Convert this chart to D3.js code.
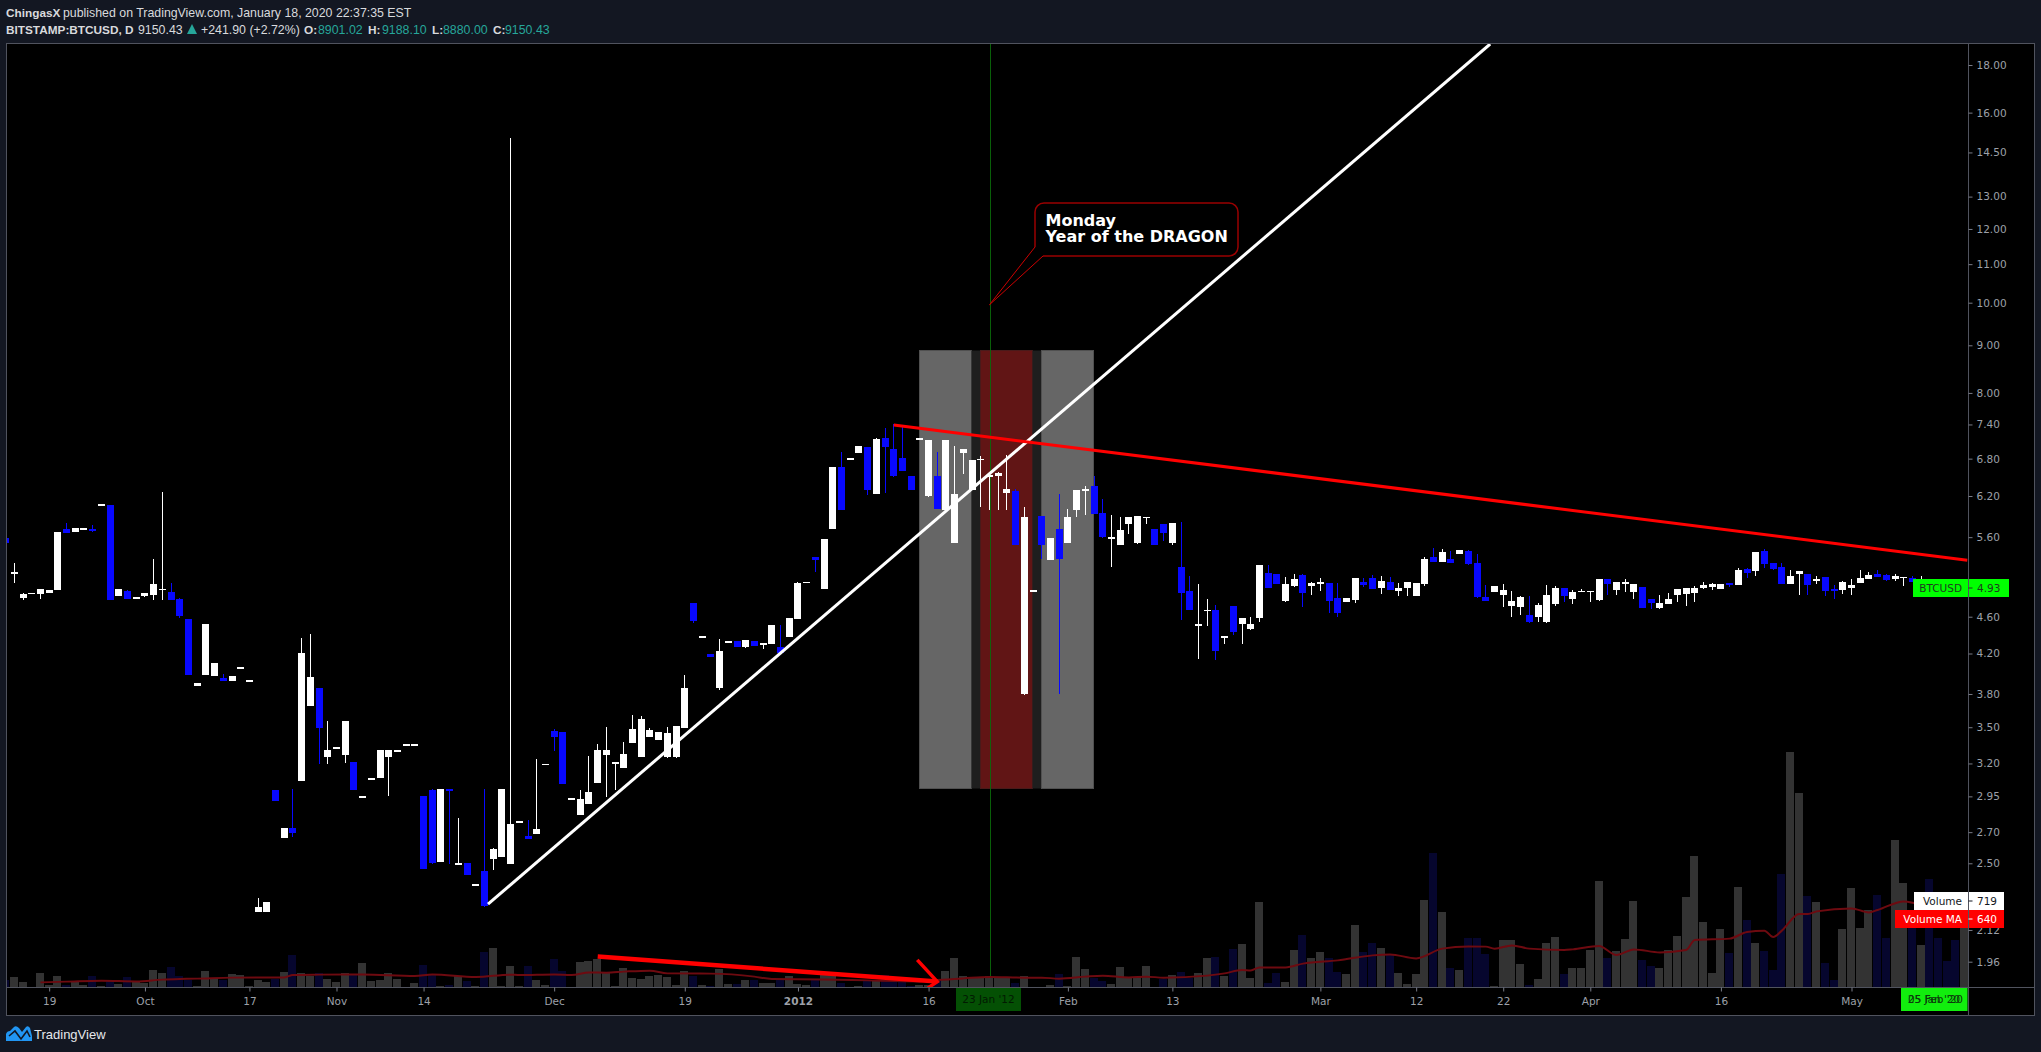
<!DOCTYPE html>
<html>
<head>
<meta charset="utf-8">
<script src="https://cdn.jsdelivr.net/npm/d3@7/dist/d3.min.js"></script>
<style>
html,body{margin:0;padding:0;background:#131722;overflow:hidden}
svg{display:block}
text{font-family:"DejaVu Sans",sans-serif}
</style>
</head>
<body>
<svg id="chart" width="2041" height="1052"></svg>
<script>
// open, high, low, close rows, grouped by calendar stretch
const candlesSep = [[5.59,5.59,5.52,5.52],[5.11,5.25,5.00,5.14],[4.82,4.88,4.79,4.87],[4.86,4.88,4.86,4.88],[4.87,4.93,4.81,4.93],[4.88,4.91,4.88,4.91],[4.91,5.67,4.91,5.67],[5.71,5.80,5.66,5.66],[5.67,5.73,5.67,5.73],[5.70,5.73,5.70,5.73],[5.71,5.77,5.67,5.69],[6.05,6.08,6.05,6.08],[6.06,6.06,4.80,4.80],[4.84,4.93,4.84,4.93],[4.90,4.91,4.81,4.81],[4.81,4.83,4.81,4.83]];
const candlesOct = [[4.84,4.88,4.83,4.88],[4.85,5.30,4.79,4.99],[4.91,6.26,4.79,4.93],[4.89,5.00,4.79,4.79],[4.81,4.82,4.58,4.61],[4.57,4.57,3.98,3.98],[3.88,3.90,3.88,3.90],[3.98,4.52,3.98,4.52],[3.97,4.10,3.97,4.10],[3.95,3.99,3.92,3.92],[3.92,3.97,3.92,3.97],[4.04,4.06,4.04,4.06],[3.91,3.93,3.91,3.93],[2.216,2.293,2.216,2.243],[2.216,2.271,2.216,2.271],[2.996,2.996,2.916,2.916],[2.660,2.727,2.660,2.727],[2.727,3.003,2.667,2.694],[3.063,4.362,3.063,4.204],[3.688,4.406,3.688,3.962],[3.855,3.855,3.195,3.492],[3.251,3.553,3.195,3.307]];
const candlesNov = [[3.315,3.332,3.315,3.332],[3.267,3.553,3.203,3.553],[3.211,3.211,2.996,2.996],[2.941,2.955,2.941,2.955],[3.075,3.09,3.075,3.09],[3.086,3.307,3.086,3.307],[3.251,3.307,2.952,3.307],[3.295,3.311,3.295,3.311],[3.344,3.361,3.344,3.361],[3.344,3.361,3.344,3.361],[2.952,2.952,2.464,2.464],[2.996,3.003,2.495,2.501],[2.508,3.003,2.508,3.003],[3.003,3.003,2.495,2.989],[2.492,2.796,2.492,2.504],[2.501,2.501,2.428,2.428],[2.365,2.377,2.365,2.377],[2.452,3.003,2.245,2.25],[2.526,2.596,2.458,2.589],[2.538,3.003,2.538,3.003],[2.495,15.03,2.495,2.754],[2.765,2.779,2.765,2.779],[2.673,2.782,2.654,2.654],[2.687,3.235,2.687,2.72],[3.184,3.199,3.184,3.199]];
const candlesDec = [[3.466,3.483,3.299,3.415],[3.458,3.458,3.041,3.041],[2.926,2.94,2.926,2.94],[2.816,2.996,2.816,2.93],[2.894,3.259,2.894,2.981],[3.049,3.357,3.049,3.307],[3.267,3.501,2.945,3.307],[3.195,3.21,2.996,3.21],[3.164,3.373,3.164,3.275],[3.365,3.606,3.365,3.483],[3.251,3.597,3.251,3.571],[3.415,3.492,3.415,3.475],[3.39,3.458,3.39,3.458],[3.251,3.501,3.243,3.449],[3.251,3.51,3.243,3.51],[3.492,3.981,3.492,3.855],[4.757,4.757,4.528,4.55],[4.368,4.39,4.368,4.39],[4.194,4.194,4.163,4.163],[3.855,4.352,3.836,4.225],[4.314,4.336,4.314,4.336],[4.33,4.33,4.266,4.266],[4.266,4.341,4.256,4.341],[4.33,4.33,4.277,4.277],[4.287,4.309,4.246,4.309],[4.298,4.506,4.298,4.506],[4.266,4.506,4.204,4.204],[4.374,4.584,4.374,4.584]];
const candlesJan = [[4.572,5.012,4.572,5.0],[4.994,5.018,4.994,5.018],[5.331,5.331,5.137,5.291],[4.925,5.574,4.925,5.574],[5.713,6.66,5.713,6.66],[6.66,6.912,5.988,5.988],[6.785,6.818,6.785,6.818],[6.895,7.015,6.895,7.015],[6.998,6.998,6.215,6.292],[6.23,7.155,6.23,7.137],[7.155,7.334,6.245,6.998],[6.963,7.407,6.498,6.514],[6.81,7.37,6.595,6.595],[6.514,6.514,6.292,6.292],[7.129,7.163,7.129,7.163],[6.199,7.12,6.184,7.12],[6.514,6.912,6.003,6.003],[5.988,7.12,5.988,7.12],[5.519,7.015,5.519,6.23],[6.895,6.963,6.547,6.963],[6.292,6.776,6.292,6.776],[6.776,6.844,6.033,6.793],[6.498,6.53,5.988,6.53],[6.514,6.579,5.988,6.563],[6.245,6.861,5.988,6.308],[6.276,6.308,5.492,5.492],[3.798,6.033,3.79,5.885],[4.895,4.919,4.895,4.919],[5.9,5.9,5.304,5.492],[5.291,5.588,5.291,5.588],[5.713,6.23,3.798,5.304]];
const candlesFeb = [[5.519,6.003,5.519,5.885],[5.988,6.292,5.885,6.292],[6.276,6.356,5.915,6.308],[6.356,6.514,5.93,5.93],[5.944,6.153,5.588,5.602],[5.58,5.915,5.201,5.608],[5.492,5.885,5.492,5.699],[5.784,5.885,5.643,5.885],[5.519,5.9,5.505,5.9],[5.871,5.885,5.784,5.885],[5.713,5.713,5.492,5.492],[5.784,5.784,5.546,5.657],[5.519,5.799,5.492,5.799],[5.201,5.813,4.561,4.877],[4.901,5.086,4.676,4.676],[4.495,4.988,4.142,4.517],[4.665,4.805,4.495,4.682],[4.676,4.734,4.132,4.225],[4.368,4.39,4.298,4.39],[4.722,4.722,4.395,4.428],[4.517,4.584,4.298,4.584],[4.461,4.596,4.45,4.517],[4.584,5.226,4.539,5.226],[5.124,5.226,4.938,4.938],[5.111,5.111,4.988,4.988],[4.781,5.074,4.769,4.988],[4.963,5.111,4.951,5.049],[5.099,5.111,4.71,4.877],[4.963,5.012,4.853,5.0]];
const candlesMar = [[4.988,5.061,4.901,5.012],[5.0,5.0,4.641,4.781],[4.817,5.0,4.596,4.641],[4.769,4.817,4.769,4.817],[4.793,5.061,4.757,5.061],[5.012,5.061,4.951,4.975],[5.061,5.099,4.925,4.925],[4.938,5.086,4.865,5.024],[5.012,5.074,4.913,4.913],[4.901,5.0,4.841,4.938],[4.938,5.012,4.841,5.012],[4.841,5.0,4.841,5.0],[4.988,5.331,4.963,5.304],[5.331,5.451,5.265,5.265],[5.265,5.438,5.265,5.397],[5.304,5.411,5.252,5.252],[5.37,5.424,5.37,5.424],[5.411,5.424,5.226,5.239],[5.252,5.37,4.817,4.829],[4.829,4.975,4.781,4.781],[4.889,4.963,4.889,4.963],[4.853,4.988,4.71,4.913],[4.722,4.901,4.596,4.781],[4.71,4.841,4.618,4.829],[4.618,4.841,4.528,4.539],[4.596,4.757,4.539,4.734],[4.539,4.975,4.528,4.853],[4.745,4.963,4.722,4.938],[4.938,4.938,4.769,4.841],[4.805,4.913,4.745,4.889],[4.889,4.925,4.889,4.901]];
const candlesApr = [[4.889,4.901,4.769,4.901],[4.793,5.049,4.781,5.049],[5.049,5.049,4.853,4.988],[4.913,5.012,4.853,5.012],[4.988,5.049,4.889,5.012],[4.889,4.988,4.805,4.988],[4.951,4.951,4.699,4.699],[4.805,4.805,4.688,4.757],[4.699,4.853,4.688,4.757],[4.745,4.877,4.745,4.805],[4.853,4.925,4.769,4.925],[4.865,4.938,4.722,4.938],[4.877,4.963,4.769,4.938],[4.938,5.012,4.925,4.975],[4.951,5.0,4.913,4.988],[4.925,4.988,4.925,4.988],[5.0,5.0,4.951,4.975],[4.975,5.188,4.975,5.162],[5.175,5.188,5.061,5.124],[5.149,5.397,5.086,5.397],[5.411,5.438,5.188,5.239],[5.252,5.252,5.162,5.175],[5.201,5.252,4.988,4.988],[4.988,5.162,4.988,5.086],[5.111,5.149,4.853,5.149],[5.111,5.111,4.853,4.975],[5.024,5.086,4.988,5.049],[5.074,5.074,4.841,4.901],[4.925,4.975,4.805,4.901],[4.913,5.024,4.865,5.012]];
const candlesMay = [[4.938,5.049,4.853,4.975],[5.0,5.162,5.0,5.061],[5.049,5.137,5.049,5.099],[5.111,5.162,5.074,5.074],[5.099,5.111,5.024,5.036],[5.049,5.111,5.024,5.086],[5.061,5.074,4.963,5.074],[5.061,5.086,5.012,5.012],[4.913,5.086,4.913,5.012],[5.0,5.0,4.90,4.95],[4.98,4.98,4.88,4.92],[4.96,4.96,4.88,4.90],[4.95,4.95,4.86,4.89],[4.90,4.95,4.89,4.93]];

const volumes = [56,80,40,4,112,16,88,16,40,16,88,8,48,24,80,48,32,136,112,160,88,56,8,128,72,56,104,96,8,56,40,64,120,256,112,88,112,64,40,112,96,192,48,56,112,64,3,32,176,96,8,16,88,48,8,280,312,8,168,8,168,56,16,224,128,2,200,208,224,112,8,152,72,64,88,96,80,16,128,88,16,8,144,24,24,56,56,32,32,56,88,24,16,64,104,96,32,2,8,56,56,96,80,40,8,16,16,56,128,232,88,80,80,88,80,80,32,88,2,2,16,104,8,240,144,72,48,24,160,80,80,168,2,64,96,120,72,112,232,240,88,304,344,72,680,32,112,40,296,416,232,280,232,120,104,496,280,352,312,264,112,24,104,696,1072,600,152,136,392,392,264,8,376,376,184,16,64,352,400,104,152,152,296,848,232,288,384,688,216,168,152,296,408,720,1048,520,112,464,272,800,536,352,288,136,904,1880,1552,728,680,192,56,464,792,472,616,736,392,1176,832,536,336,864,392,208,376,719];

const maIndex = [3,6,10,14,17,19,21,25,31,32,35,40,46,48,53,57,58,62,64,66,68,70,73,75,80,85,87,93,98,104,106,109,112,116,118,120,123,125,128,130,132,137,139,141,142,143,146,148,152,156,158,161,164,167,169,170,172,174,178,179,182,184,186,189,192,193,197,199,201,202,203,205,206,207,211,213,214,217,219,221,223,224];
const maValues = [37,43,51,45,59,64,67,75,77,96,99,101,88,101,80,99,96,101,96,117,115,123,131,109,107,83,64,61,53,45,56,69,80,75,75,67,83,91,77,83,75,91,109,136,133,157,157,187,213,253,261,229,307,325,323,307,333,307,296,301,328,256,301,277,296,376,387,440,451,400,451,584,584,605,629,597,616,685,664,701,669,640];

const priceTicks = [18,16,14.5,13,12,11,10,9,8,7.4,6.8,6.2,5.6,4.6,4.2,3.8,3.5,3.2,2.95,2.7,2.5,2.12,1.96];
const timeTickIndex = [4,15,27,37,47,62,77,90,105,121,133,150,161,171,181,196,211];
const timeTickLabels = ["19","Oct","17","Nov","14","Dec","19","2012","16","Feb","13","Mar","12","22","Apr","16","May"];

const zoneEdges = [104,110,111,117,118,124];
const zoneLow = 3.01, zoneHigh = 8.9;
const risingLine = [[54.4,2.26],[169.5,18.96]];
const fallingLine = [[101,7.39],[224.3,5.29]];
const volumeArrowShaft = [[67,1.985],[106,1.866]];
const volumeArrowHead = [[103.7,1.969],[106,1.866],[104.9,1.836]];
const calloutTip = [112,9.95];
const crosshairIndex = 112;

const candles = [...candlesSep,...candlesOct,...candlesNov,...candlesDec,...candlesJan,...candlesFeb,...candlesMar,...candlesApr,...candlesMay];

const svg = d3.select("#chart");
const x = d3.scaleLinear().domain([-1,224]).range([5.63,1964.7]);
const y = d3.scaleLog().domain([1.96,18]).range([961.7,65]);
const v = d3.scaleLinear().domain([0,1000]).range([987,862]);

const L=7,R=1968.5,T=44,B=987;
svg.append("defs").append("clipPath").attr("id","pane").append("rect").attr("x",L).attr("y",T).attr("width",R-L).attr("height",B-T);
svg.append("rect").attr("x",6.5).attr("y",43.5).attr("width",2028).attr("height",972).attr("fill","#000").attr("stroke","#50535e");

const pane = svg.append("g").attr("clip-path","url(#pane)");

// background zones
const zoneFills = ["#666666","#1e1e1e","#611515","#1e1e1e","#666666"];
const zoneStrokes = ["#505050","none","#4a1a1a","none","#505050"];
pane.append("g").selectAll("rect").data(d3.pairs(zoneEdges)).join("rect")
  .attr("x",d=>Math.round(x(d[0]))-.5).attr("width",d=>Math.round(x(d[1]))-Math.round(x(d[0])))
  .attr("y",Math.round(y(zoneHigh))+.5).attr("height",Math.round(y(zoneLow))-Math.round(y(zoneHigh)))
  .attr("fill",(d,i)=>zoneFills[i]).attr("stroke",(d,i)=>zoneStrokes[i]);

// crosshair
pane.append("line").attr("x1",Math.round(x(crosshairIndex))+.5).attr("x2",Math.round(x(crosshairIndex))+.5)
  .attr("y1",T).attr("y2",B).attr("stroke","#0a6a0a").attr("stroke-width",1).attr("opacity",.9);

// volume
const isUp = d=>d[3]>=d[0];
pane.append("g").selectAll("rect").data(volumes).join("rect")
  .attr("x",(d,i)=>Math.floor(x(i-1))-4).attr("width",8)
  .attr("y",d=>Math.round(v(d))).attr("height",d=>Math.max(1,B-Math.round(v(d))))
  .attr("fill",(d,i)=>isUp(candles[i])?"#333333":"#06062e").attr("shape-rendering","crispEdges");
pane.append("path").datum(maIndex.map((d,i)=>[d,maValues[i]]))
  .attr("d",d3.line().x(d=>x(d[0])).y(d=>v(d[1])).curve(d3.curveMonotoneX))
  .attr("fill","none").attr("stroke","#6e0a10").attr("stroke-width",2);

// candles
const colour = d=>isUp(d)?"#ffffff":"#0808ff";
const cg = pane.append("g").attr("shape-rendering","crispEdges");
cg.selectAll("line").data(candles).join("line")
  .attr("x1",(d,i)=>Math.floor(x(i-1))+.5).attr("x2",(d,i)=>Math.floor(x(i-1))+.5)
  .attr("y1",d=>Math.round(y(d[1]))).attr("y2",d=>Math.round(y(d[2])))
  .attr("stroke",colour).attr("stroke-width",1);
cg.selectAll("rect").data(candles).join("rect")
  .attr("x",(d,i)=>Math.floor(x(i-1))-3).attr("width",7)
  .attr("y",d=>Math.round(y(Math.max(d[0],d[3]))))
  .attr("height",d=>Math.max(1,Math.round(y(Math.min(d[0],d[3])))-Math.round(y(Math.max(d[0],d[3])))))
  .attr("fill",colour);

// trend lines
const seg = d3.line().x(d=>x(d[0])).y(d=>y(d[1]));
pane.append("path").attr("d",seg(risingLine)).attr("stroke","#fff").attr("stroke-width",3).attr("fill","none");
pane.append("path").attr("d",seg(fallingLine)).attr("stroke","#f00").attr("stroke-width",3).attr("fill","none");
pane.append("path").attr("d",seg(volumeArrowShaft)).attr("stroke","#f00").attr("stroke-width",4.5).attr("fill","none");
pane.append("path").attr("d",seg(volumeArrowHead)).attr("stroke","#f00").attr("stroke-width",3.5).attr("fill","none");

// callout
const tipX=x(calloutTip[0]), tipY=y(calloutTip[1]);
const bx0=1035,bx1=1238,by0=203,by1=256,r=9;
const bubble=d3.path();
bubble.moveTo(bx0+r,by0);bubble.lineTo(bx1-r,by0);bubble.arcTo(bx1,by0,bx1,by0+r,r);
bubble.lineTo(bx1,by1-r);bubble.arcTo(bx1,by1,bx1-r,by1,r);bubble.lineTo(1043,by1);
bubble.moveTo(bx0,247);bubble.lineTo(bx0,by0+r);bubble.arcTo(bx0,by0,bx0+r,by0,r);
svg.append("path").attr("d",bubble.toString()).attr("fill","none").attr("stroke","#990000").attr("stroke-width",1.5);
const tail=d3.path();tail.moveTo(bx0,247);tail.lineTo(tipX,tipY);tail.lineTo(1043,by1);
svg.append("path").attr("d",tail.toString()).attr("fill","none").attr("stroke","#cc0000").attr("stroke-width",1);
svg.append("text").attr("x",1045.5).attr("y",225.5).attr("fill","#fff").attr("font-size",16).attr("font-weight","bold").text("Monday");
svg.append("text").attr("x",1045.5).attr("y",241.5).attr("fill","#fff").attr("font-size",16).attr("font-weight","bold").text("Year of the DRAGON");

// axes
svg.append("line").attr("x1",6.5).attr("x2",2034.5).attr("y1",987.5).attr("y2",987.5).attr("stroke","#50535e");
svg.append("line").attr("x1",1968.5).attr("x2",1968.5).attr("y1",44).attr("y2",1015).attr("stroke","#50535e");
const yAxis = d3.axisRight(y).tickValues(priceTicks).tickFormat(d3.format(".2f")).tickSize(4).tickPadding(4);
const gy = svg.append("g").attr("transform","translate(1968.5,0)").call(yAxis);
gy.select(".domain").remove();
gy.selectAll("line").attr("stroke","#787b86");
gy.selectAll("text").attr("fill","#9da0a9").attr("font-size",10.5).attr("font-family","'DejaVu Sans',sans-serif");
const xAxis = d3.axisBottom(x).tickValues(timeTickIndex).tickFormat((d,i)=>timeTickLabels[i]).tickSize(4).tickPadding(6);
const gx = svg.append("g").attr("transform","translate(0,987.5)").call(xAxis);
gx.select(".domain").remove();
gx.selectAll("line").attr("stroke","#787b86");
gx.selectAll("text").attr("fill","#9da0a9").attr("font-size",10.5).attr("font-family","'DejaVu Sans',sans-serif")
  .attr("font-weight",d=>d===90?"bold":"normal");

// axis labels
function tag(xa,xb,ya,yb,fill,left,right,tc){
  svg.append("rect").attr("x",xa).attr("y",ya).attr("width",xb-xa).attr("height",yb-ya).attr("fill",fill);
  svg.append("text").attr("x",1962).attr("y",(ya+yb)/2+4).attr("text-anchor","end").attr("fill",tc).attr("font-size",10.5).text(left);
  svg.append("text").attr("x",1977).attr("y",(ya+yb)/2+4).attr("fill",tc).attr("font-size",10.5).text(right);
  svg.append("line").attr("x1",1968.5).attr("x2",1968.5).attr("y1",ya).attr("y2",yb).attr("stroke","#50535e");
  svg.append("line").attr("x1",1968.5).attr("x2",1972.5).attr("y1",(ya+yb)/2).attr("y2",(ya+yb)/2).attr("stroke",tc);
}
tag(1913,2009,579,597,"#00ff00","BTCUSD","4.93","#1f3a1f");
tag(1914,2004,892,910,"#ffffff","Volume","719","#131722");
tag(1895,2004,910,928,"#ff0000","Volume MA","640","#ffffff");

// time labels
svg.append("rect").attr("x",956).attr("y",988).attr("width",65).attr("height",23).attr("fill","#045004");
svg.append("text").attr("x",988.5).attr("y",1003).attr("text-anchor","middle").attr("font-size",10.5).attr("fill","#021a02").text("23 Jan '12");
svg.append("rect").attr("x",1901).attr("y",988).attr("width",66.5).attr("height",23).attr("fill","#12ee0e");
[["25 Jan '20",1934],["05 Feb '20",1935.5]].forEach(t=>svg.append("text").attr("x",t[1]).attr("y",1003).attr("text-anchor","middle").attr("font-size",10.5).attr("fill","#0c3a0c").text(t[0]));

// header
const hdr = "'Liberation Sans',Arial,sans-serif";
function ht(xp,yp,t,fill,bold){svg.append("text").attr("x",xp).attr("y",yp).attr("font-size",bold?11.8:12.35).attr("font-weight",bold?"bold":"normal").attr("fill",fill).style("font-family",hdr).text(t);}
const W="#d9dadd",G="#26a69a";
ht(6,17,"ChingasX",W,true);
ht(63,17,"published on TradingView.com, January 18, 2020 22:37:35 EST",W);
ht(6,34,"BITSTAMP:BTCUSD, D",W,true);
ht(138,34,"9150.43",W);
svg.append("path").attr("d",d3.line()([[187,34],[197,34],[192,24]])+"Z").attr("fill",G);
ht(201,34,"+241.90 (+2.72%)",W);
ht(304,34,"O:",W,true);ht(318,34,"8901.02",G);
ht(368,34,"H:",W,true);ht(382,34,"9188.10",G);
ht(432,34,"L:",W,true);ht(443,34,"8880.00",G);
ht(493,34,"C:",W,true);ht(505,34,"9150.43",G);

// footer
svg.append("path").attr("d","M6 1041 L6 1034 Q7 1031 10 1031 L14 1027 Q16 1025 19 1028 L22 1032 L26 1027 Q28 1025 30 1028 L32 1036 L32 1041 Z").attr("fill","#2196f3");
svg.append("path").attr("d","M9 1036 L15 1031 L21 1039 L27 1031 L30 1037").attr("fill","none").attr("stroke","#131722").attr("stroke-width",1.6);
svg.append("text").attr("x",34).attr("y",1039).attr("font-size",13).attr("fill","#e6e8ec").style("font-family",hdr).text("TradingView");
</script>
</body>
</html>
